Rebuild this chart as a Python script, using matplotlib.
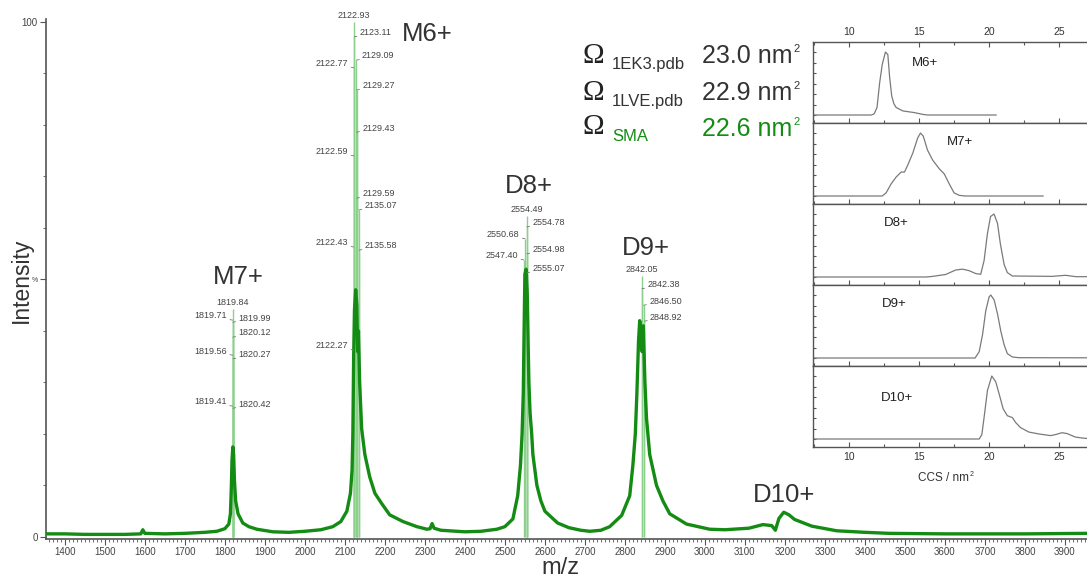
import numpy as np
import matplotlib
matplotlib.use("Agg")
import matplotlib.pyplot as plt
from matplotlib.ticker import MultipleLocator

plt.rcParams['font.family'] = ['Liberation Sans', 'DejaVu Sans']

# ---- mass spectrum envelope (m/z, intensity %) ----
mz = [1353, 1400, 1450, 1500, 1550, 1590, 1595, 1600, 1650, 1700, 1750, 1780,
      1800, 1810, 1814, 1816, 1818, 1820, 1822, 1824, 1827, 1833, 1845, 1860,
      1880, 1920, 1960, 2000, 2040, 2070, 2090, 2105, 2114, 2118, 2120, 2122,
      2124, 2127, 2130, 2132, 2134, 2137, 2142, 2150, 2162, 2175, 2192, 2212,
      2245, 2280, 2305, 2313, 2318, 2323, 2340, 2400, 2440, 2480, 2500, 2520,
      2532, 2539, 2543, 2546, 2548, 2550, 2553, 2556, 2558, 2560, 2563, 2567,
      2570, 2580, 2590, 2600, 2632, 2660, 2690, 2712, 2740, 2762, 2792, 2812,
      2820, 2826, 2830, 2834, 2837, 2840, 2843, 2846, 2850, 2854, 2862, 2879,
      2895, 2912, 2954, 3012, 3050, 3110, 3145, 3167, 3176, 3185, 3197, 3210,
      3224, 3267, 3329, 3400, 3460, 3600, 3800, 3955]
intensity = [0.6, 0.6, 0.5, 0.5, 0.5, 0.6, 1.4, 0.7, 0.6, 0.7, 0.9, 1.1,
             1.6, 2.5, 4.5, 9, 15, 17.5, 16, 11, 7, 4.5, 2.7, 2.0,
             1.5, 1.0, 0.9, 1.1, 1.4, 2.0, 3.0, 5.0, 8.5, 13, 20, 35,
             44, 48, 45, 36, 40, 30, 21, 16, 11.7, 8.5, 6.5, 4.3,
             3.0, 2.0, 1.5, 1.6, 2.6, 1.7, 1.3, 1.0, 1.1, 1.5, 2.0, 3.5,
             8, 14, 20, 28, 40, 51, 52, 47, 38, 30, 24, 20,
             16, 10, 7, 5, 2.7, 1.8, 1.3, 1.1, 1.3, 2.0, 4.2, 8,
             14, 20, 28, 38, 42, 40, 36, 41, 30, 23, 16, 10,
             7, 4.5, 2.5, 1.5, 1.4, 1.7, 2.4, 2.2, 1.3, 3.6, 4.8, 4.3,
             3.4, 2.1, 1.2, 0.9, 0.7, 0.6, 0.6, 0.7]

# labelled centroid peaks: m/z, height (%), label side
peak_mz = [1819.84, 1819.71, 1819.99, 1820.12, 1819.56, 1820.27, 1819.41, 1820.42,
           2122.93, 2123.11, 2129.09, 2122.77, 2129.27, 2129.43, 2122.59, 2129.59,
           2135.07, 2122.43, 2135.58, 2122.27,
           2554.49, 2554.78, 2550.68, 2554.98, 2547.40, 2555.07,
           2842.05, 2842.38, 2846.50, 2848.92]
peak_h = [44.3, 42.1, 41.7, 38.8, 35.3, 34.6, 25.4, 25.0,
          100.0, 97.1, 92.6, 91.1, 86.8, 78.6, 74.0, 65.8,
          63.5, 56.3, 55.7, 36.3,
          62.3, 60.2, 57.9, 55.0, 53.8, 51.3,
          50.7, 48.2, 45.0, 41.9]
peak_side = ['top', 'left', 'right', 'right', 'left', 'right', 'left', 'right',
             'top', 'right', 'right', 'left', 'right', 'right', 'left', 'right',
             'right', 'left', 'right', 'left',
             'top', 'right', 'left', 'right', 'left', 'right',
             'top', 'right', 'right', 'right']

# ---- CCS distributions (inset) ----
ccs_m6 = [7.4, 11.6, 11.8, 12.0, 12.18, 12.37, 12.6, 12.77, 12.9, 13.05, 13.2, 13.36,
          13.84, 14.3, 14.67, 15.26, 15.6, 20.5]
int_m6 = [0, 0, 0.02, 0.12, 0.5, 0.8, 1.0, 0.96, 0.6, 0.3, 0.18, 0.12,
          0.065, 0.05, 0.038, 0.01, 0, 0]
ccs_m7 = [7.4, 12.37, 12.65, 13.0, 13.36, 13.72, 13.96, 14.19, 14.55, 14.9, 15.1, 15.3,
          15.6, 15.97, 16.45, 16.8, 17.16, 17.5, 17.87, 18.3, 23.85]
int_m7 = [0, 0, 0.05, 0.19, 0.3, 0.38, 0.38, 0.49, 0.68, 0.92, 1.0, 0.95,
          0.73, 0.57, 0.43, 0.35, 0.19, 0.05, 0.01, 0, 0]
ccs_d8 = [7.4, 15.5, 15.97, 16.9, 17.6, 18.1, 18.58, 19.05, 19.4, 19.64, 19.88, 20.1,
          20.35, 20.6, 20.8, 21.07, 21.3, 21.66, 24.5, 25.45, 26.2, 27.3]
int_d8 = [0, 0, 0.01, 0.04, 0.11, 0.125, 0.1, 0.054, 0.043, 0.26, 0.69, 0.96,
          1.0, 0.85, 0.53, 0.2, 0.07, 0.016, 0.01, 0.027, 0.005, 0.005]
ccs_d9 = [7.4, 19.0, 19.29, 19.53, 19.76, 20.0, 20.12, 20.36, 20.6, 20.83, 21.07, 21.3,
          21.66, 22.1, 27.3]
int_d9 = [0, 0.0, 0.1, 0.37, 0.75, 0.97, 1.0, 0.92, 0.7, 0.43, 0.21, 0.07,
          0.016, 0.005, 0.003]
ccs_d10 = [7.4, 19.29, 19.48, 19.64, 19.88, 20.19, 20.47, 20.71, 21.0, 21.3, 21.66, 21.9,
           22.25, 22.84, 23.55, 24.38, 24.74, 25.2, 25.57, 26.16, 26.87, 27.3]
int_d10 = [0, 0, 0.07, 0.34, 0.77, 1.0, 0.91, 0.72, 0.48, 0.37, 0.34, 0.26,
           0.18, 0.11, 0.08, 0.054, 0.07, 0.10, 0.086, 0.03, 0.01, 0.01]
inset_labels = ['M6+', 'M7+', 'D8+', 'D9+', 'D10+']

W, H = 1087, 581
green = '#148c14'
light_green = '#8bd08b'
txt = '#333333'

fig = plt.figure(figsize=(W / 100, H / 100), dpi=100)
ax = fig.add_axes([46 / W, 42.5 / H, 1041 / W, 519.1 / H])

ax.vlines(peak_mz, 0, peak_h, color=light_green, lw=1.0, zorder=2)
ax.plot(mz, intensity, color=green, lw=2.4, solid_joinstyle='round', zorder=3)

for m, h, s in zip(peak_mz, peak_h, peak_side):
    if s == 'top':
        ax.annotate(f'{m:.2f}', (m, h), xytext=(0, 1.5), textcoords='offset points',
                    ha='center', va='bottom', fontsize=6.5, color='#444')
    else:
        dx = -4 if s == 'left' else 4
        ax.annotate(f'{m:.2f}', (m, h), xytext=(dx, 3), textcoords='offset points',
                    ha='right' if s == 'left' else 'left', va='center',
                    fontsize=6.5, color='#444',
                    arrowprops=dict(arrowstyle='-', color='#777', lw=0.6,
                                    shrinkA=0, shrinkB=0))

for lab, x, y in [('M6+', 2305, 97.7), ('M7+', 1832.5, 50.5), ('D8+', 2560, 68.2),
                  ('D9+', 2852.5, 56.1), ('D10+', 3197.5, 8.1)]:
    ax.text(x, y, lab, fontsize=18.5, color=txt, ha='center', va='center')

ax.set_xlim(1353, 3955)
ax.set_ylim(-0.3, 100.5)
ax.set_xticks(range(1400, 4000, 100))
ax.xaxis.set_minor_locator(MultipleLocator(10))
ax.set_yticks([0, 50, 100])
ax.set_yticklabels(['0', '%', '100'])
ax.yaxis.set_minor_locator(MultipleLocator(10))
ax.tick_params(axis='both', which='major', labelsize=7, labelcolor='#444',
               color='#555', length=4, width=0.8, pad=2)
ax.tick_params(axis='both', which='minor', color='#555', length=2, width=0.6)
ax.get_yticklabels()[1].set_fontsize(5)
for sp in ['top', 'right']:
    ax.spines[sp].set_visible(False)
for sp in ['left', 'bottom']:
    ax.spines[sp].set_color('#555')
    ax.spines[sp].set_linewidth(1.2)

fig.text(21 / W, 1 - 280 / H, 'Intensity', rotation=90, fontsize=16.5,
         color=txt, ha='center', va='center')
fig.text(560 / W, 1 - 568 / H, 'm/z', fontsize=17, color=txt, ha='center', va='center')

# omega block
rows = [('1EK3.pdb', '23.0 nm', txt, 63, 69, 63),
        ('1LVE.pdb', '22.9 nm', txt, 100, 106, 100),
        ('SMA', '22.6 nm', green, 134, 141, 136)]
value_texts = []
for sub, val, col, yo, ys, yv in rows:
    fig.text(582 / W, 1 - yo / H, 'Ω', fontsize=21, family='Liberation Serif',
             color='#222', va='baseline')
    fig.text(612 / W, 1 - ys / H, sub, fontsize=12, color=col, va='baseline')
    t = fig.text(702 / W, 1 - yv / H, val, fontsize=18, color=col, va='baseline')
    value_texts.append((t, col, yv))

# inset stack
curves = [(ccs_m6, int_m6), (ccs_m7, int_m7), (ccs_d8, int_d8),
          (ccs_d9, int_d9), (ccs_d10, int_d10)]
label_pos = [(15.43, 0.83), (17.9, 0.86), (13.4, 0.86), (13.2, 0.86), (13.4, 0.65)]
ccs_label = None
for k, ((cx, cy), lab, (lx, ly)) in enumerate(zip(curves, inset_labels, label_pos)):
    bottom_px = 42 + 81 * (k + 1)
    iax = fig.add_axes([813 / W, 1 - bottom_px / H, 277 / W, 81 / H])
    iax.set_facecolor('white')
    iax.plot(cx, cy, color='#7a7a7a', lw=0.9)
    iax.text(lx, ly, lab, fontsize=9.5, color='#222', ha='center', va='center')
    iax.set_xlim(7.43, 27.2)
    iax.set_ylim(-0.127, 1.159)
    iax.set_xticks([10, 15, 20, 25])
    iax.xaxis.set_minor_locator(MultipleLocator(2.5))
    iax.set_yticks(np.linspace(0, 1, 7))
    iax.set_yticklabels([])
    iax.tick_params(axis='both', which='both', direction='in', color='#555', width=0.8)
    iax.tick_params(axis='both', which='major', length=3.5, labelsize=7.5, labelcolor='#333')
    iax.tick_params(axis='both', which='minor', length=2)
    iax.tick_params(axis='y', which='major', length=2.5)
    if k == 0:
        iax.tick_params(axis='x', which='both', top=True, labeltop=True,
                        bottom=True, labelbottom=False)
    elif k == 4:
        iax.tick_params(axis='x', labelbottom=True)
        ccs_label = fig.text(918 / W, 1 - 481 / H, 'CCS / nm', fontsize=8.5,
                             color='#333', va='baseline')
    else:
        iax.tick_params(axis='x', labelbottom=False)
    for sp in iax.spines.values():
        sp.set_color('#555')
        sp.set_linewidth(1.0)

# small raised "2" after each "nm"
fig.canvas.draw()
r = fig.canvas.get_renderer()
for t, col, yv in value_texts:
    bb = t.get_window_extent(r)
    fig.text((bb.x1 + 1) / W, 1 - (yv - 11) / H, '2', fontsize=8, color=col,
             va='baseline')
bb = ccs_label.get_window_extent(r)
fig.text((bb.x1 + 0.5) / W, 1 - (481 - 5) / H, '2', fontsize=5, color='#333',
         va='baseline')

fig.savefig('out.png', dpi=100)
